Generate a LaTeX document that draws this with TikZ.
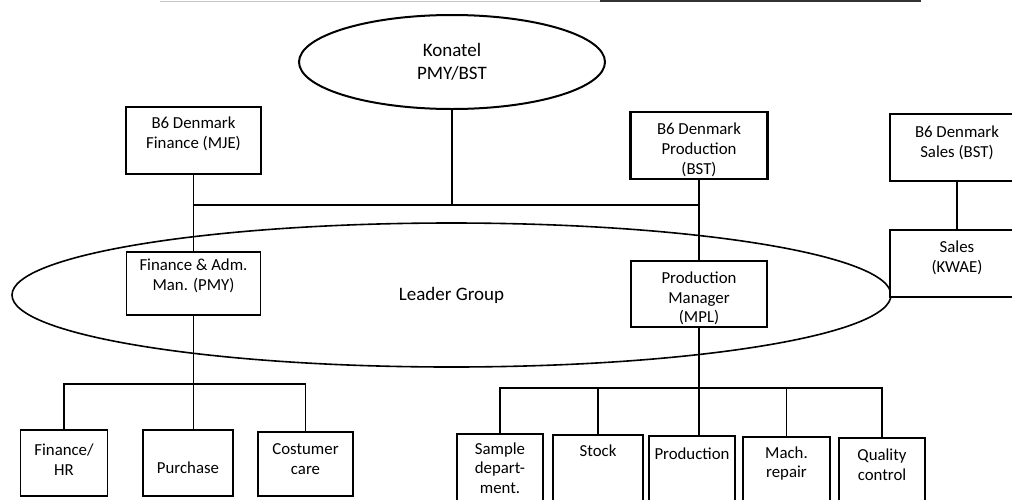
\documentclass[tikz,border=0pt]{standalone}
\usepackage{fontspec}
\setmainfont{Carlito}
\usetikzlibrary{shapes}

\begin{document}
\begin{tikzpicture}[x=1pt,y=-1pt]
	\tikzset{unit/.style={draw,line width=1.6pt,fill=white,align=center,inner sep=2pt,font=\fontsize{16.8}{19.7}\selectfont}}
	\tikzset{owner/.style={unit,line width=2.2pt}}
	\tikzset{group/.style={ellipse,draw,line width=1.6pt,inner sep=0pt,align=center,font=\fontsize{19}{23}\selectfont}}
	\tikzset{link/.style={line width=1.2pt}}
	\useasboundingbox (0,0) rectangle (1012,499);
	% scrap of the frame above
	\draw[gray!45,line width=1pt] (160,1) -- (600,1);
	\draw[black!80,line width=2.4pt] (600,0.5) -- (921,0.5);
	% owners and groups
	\node[group,line width=2pt,minimum width=306pt,minimum height=94pt] (konatel) at (452,62) {Konatel\\PMY/BST};
	\node[group,minimum width=879pt,minimum height=144pt] (leader) at (451.5,295) {Leader Group};
	\node[owner,minimum width=135pt,minimum height=67pt,text depth=15.5pt] (fmje) at (193.5,140.5) {B6 Denmark\\Finance (MJE)};
	\node[owner,minimum width=137pt,minimum height=67pt,text height=60pt] (fprod) at (699,145.5) {B6 Denmark\\Production\\(BST)};
	\node[owner,minimum width=134pt,minimum height=67pt,text depth=11.5pt] (fsales) at (957,147.5) {B6 Denmark\\Sales (BST)};
	% managers
	\node[unit,minimum width=134pt,minimum height=67pt,text depth=13.5pt] (sales) at (957,263.5) {Sales\\(KWAE)};
	\node[unit,minimum width=134pt,minimum height=63pt,text depth=17pt] (fadm) at (193.5,283.5) {Finance \& Adm.\\Man. (PMY)};
	\node[unit,minimum width=136pt,minimum height=66pt,text height=60pt] (pman) at (699,294) {Production\\Manager\\(MPL)};
	% departments
	\node[unit,minimum width=87pt,minimum height=66pt,text depth=7pt] (hr) at (64,463) {Finance/\\HR};
	\node[unit,minimum width=90pt,minimum height=66pt,text height=22pt] (purch) at (188,463) {Purchase};
	\node[unit,minimum width=95pt,minimum height=64pt,text depth=10pt] (care) at (305.5,464) {Costumer\\care};
	\node[unit,minimum width=86pt,minimum height=68pt] (sample) at (500,468) {Sample\\depart-\\ment.};
	\node[unit,minimum width=90pt,minimum height=67pt,text height=12pt,text depth=37pt] (stock) at (598,468.5) {Stock};
	\node[unit,minimum width=86pt,minimum height=66pt,text height=12pt,text depth=32pt] (prod) at (692,469) {Production};
	\node[unit,minimum width=87pt,minimum height=65pt,text depth=14.5pt] (mach) at (786.5,469.5) {Mach.\\repair};
	\node[unit,minimum width=86pt,minimum height=64pt,text depth=11pt] (qual) at (882,470) {Quality\\control};
	% connectors
	\coordinate (kbus) at (452,205);
	\coordinate (fbus) at (193.5,384);
	\coordinate (pbus) at (699,388);
	\draw[link] (konatel) -- (kbus);
	\draw[link] (fmje.south |- kbus) -- (fprod.south |- kbus);
	\draw[link] (fmje) -- (fadm);
	\draw[link] (fprod) -- (pman);
	\draw[link] (fsales) -- (sales);
	\draw[link] (fadm) -- (fbus) -- (fbus |- purch.north);
	\draw[link] (hr.north) |- (fbus) -| (care.north);
	\draw[link] (pman) -- (pbus) -- (pbus |- prod.north);
	\draw[link] (sample.north) |- (pbus) -| (qual.north);
	\draw[link] (stock.north) -- (stock.north |- pbus);
	\draw[link] (mach.north) -- (mach.north |- pbus);
\end{tikzpicture}
\end{document}
